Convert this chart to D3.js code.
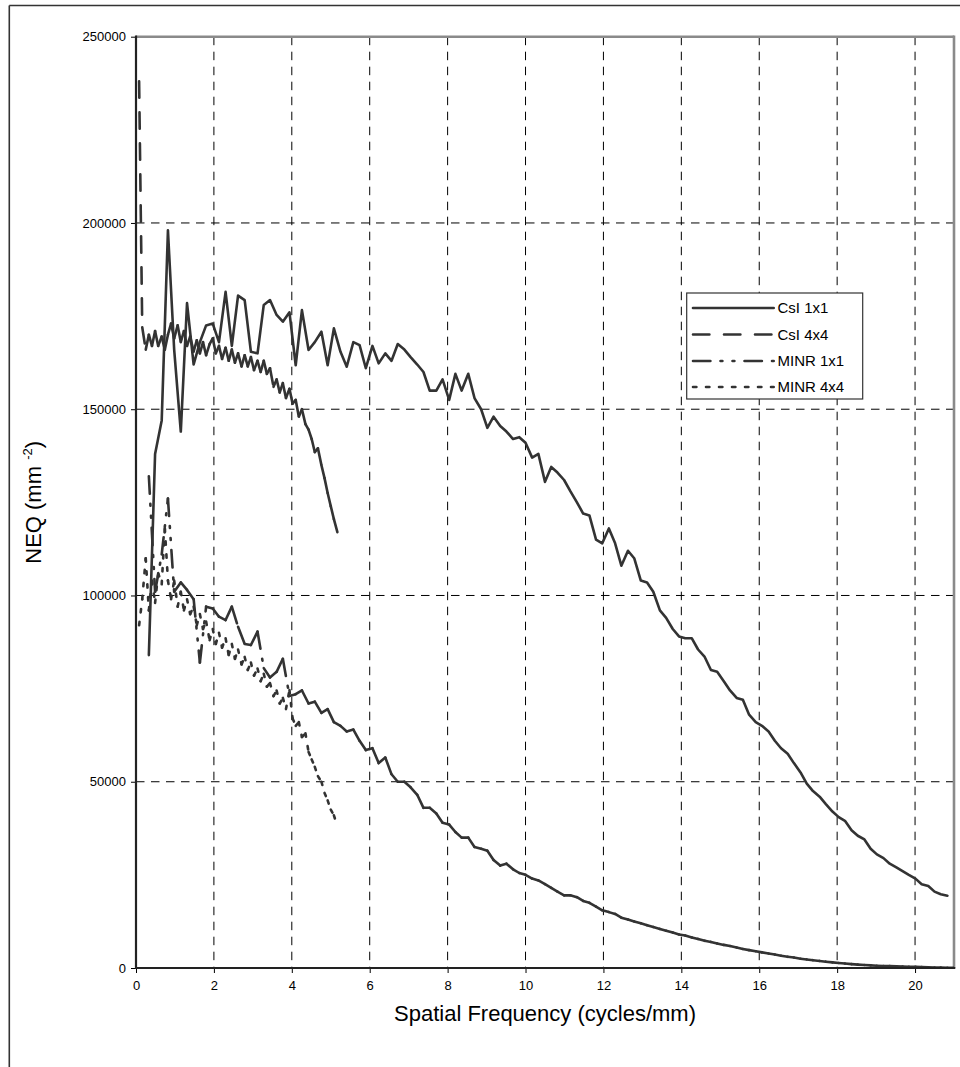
<!DOCTYPE html>
<html>
<head>
<meta charset="utf-8">
<script src="https://cdn.jsdelivr.net/npm/d3@7/dist/d3.min.js"></script>
<style>
  html, body { margin: 0; padding: 0; background: #fff; }
  text { font-family: "Liberation Sans", Arial, sans-serif; }
</style>
</head>
<body>
<script>
// ---------------- DATA ----------------
const xTickValues = [0, 2, 4, 6, 8, 10, 12, 14, 16, 18, 20];
const yTickValues = [0, 50000, 100000, 150000, 200000, 250000];
const seriesNames = ["CsI 1x1", "CsI 4x4", "MINR 1x1", "MINR 4x4"];

// sampling frequencies (cycles/mm) of the 1x1 data
const freq1x1 = [0.33, 0.49, 0.66, 0.82, 0.98, 1.15, 1.31, 1.48, 1.64, 1.80, 1.97, 2.13, 2.30, 2.46, 2.62, 2.79, 2.95, 3.12, 3.28, 3.44,
  3.61, 3.77, 3.94, 4.10, 4.26, 4.43, 4.59, 4.76, 4.92, 5.08, 5.25, 5.41, 5.58, 5.74, 5.90, 6.07, 6.23, 6.40, 6.56, 6.72,
  6.89, 7.05, 7.22, 7.38, 7.54, 7.71, 7.87, 8.04, 8.20, 8.36, 8.53, 8.69, 8.86, 9.02, 9.18, 9.35, 9.51, 9.68, 9.84, 10.00,
  10.17, 10.33, 10.50, 10.66, 10.82, 10.99, 11.15, 11.32, 11.48, 11.64, 11.81, 11.97, 12.14, 12.30, 12.46, 12.63, 12.79, 12.96, 13.12, 13.28,
  13.45, 13.61, 13.78, 13.94, 14.10, 14.27, 14.43, 14.60, 14.76, 14.92, 15.09, 15.25, 15.42, 15.58, 15.74, 15.91, 16.07, 16.24, 16.40, 16.56,
  16.73, 16.89, 17.06, 17.22, 17.38, 17.55, 17.71, 17.88, 18.04, 18.20, 18.37, 18.53, 18.70, 18.86, 19.02, 19.19, 19.35, 19.52, 19.68, 19.84,
  20.01, 20.17, 20.34, 20.50, 20.66, 20.83, 20.99];

// sampling frequencies (cycles/mm) of the 4x4 data
const freq4x4 = [0.08, 0.16, 0.25, 0.33, 0.41, 0.49, 0.57, 0.66, 0.74, 0.82, 0.90, 0.98, 1.07, 1.15, 1.23, 1.31, 1.39, 1.48, 1.56, 1.64,
  1.72, 1.80, 1.89, 1.97, 2.05, 2.13, 2.21, 2.30, 2.38, 2.46, 2.54, 2.62, 2.71, 2.79, 2.87, 2.95, 3.03, 3.12, 3.20, 3.28,
  3.36, 3.44, 3.53, 3.61, 3.69, 3.77, 3.85, 3.94, 4.02, 4.10, 4.18, 4.26, 4.35, 4.43, 4.51, 4.59, 4.67, 4.76, 4.84, 4.92,
  5.00, 5.08, 5.17];

// NEQ (mm^-2)
const csi1x1 = [84000, 138000, 147000, 198000, 166000, 144000, 178500, 162000, 168000, 172500, 173000, 168000, 181500, 167000, 180500, 179300, 165400, 165000, 178000, 179300,
  175300, 173500, 176000, 161800, 176600, 165900, 168000, 170800, 161800, 171700, 165400, 161400, 168000, 167200, 161000, 167000, 162300, 165000, 163000, 167500,
  166000, 164000, 162000, 160000, 155000, 155000, 158000, 152500, 159500, 155000, 159500, 153000, 150000, 145000, 148000, 145500, 144000, 142000, 142500, 141000,
  137000, 138000, 130500, 134500, 133000, 131000, 128000, 125000, 122000, 121500, 115000, 114000, 118000, 114000, 108000, 112000, 110000, 104000, 103500, 101000,
  96000, 94000, 91000, 89000, 88500, 88500, 85500, 83500, 80000, 79500, 77000, 74500, 72500, 72000, 68000, 66000, 65000, 63500, 61000, 59000,
  57500, 55000, 52500, 49500, 47500, 46000, 44000, 42000, 40500, 39500, 37000, 35500, 34500, 32000, 30500, 29500, 28000, 27000, 26000, 25000,
  24000, 22500, 22000, 20500, 19800, 19400];

const minr1x1 = [132000, 101000, 111000, 126000, 101000, 103500, 101500, 99000, 82000, 97000, 96500, 94300, 93400, 97000, 91600, 87000, 86700, 90300, 80500, 78000,
  79500, 83000, 73000, 73500, 74500, 71000, 71500, 68500, 69500, 66000, 65000, 63500, 64000, 61000, 58500, 59000, 55000, 56500, 52000, 50000,
  50000, 48500, 46500, 43000, 43000, 41500, 39000, 38500, 36500, 35000, 35000, 32500, 32000, 31500, 29000, 27500, 28000, 26500, 25500, 25000,
  24000, 23500, 22500, 21500, 20500, 19500, 19500, 19000, 18000, 17500, 16500, 15500, 15000, 14500, 13500, 13000, 12500, 12000, 11500, 11000,
  10500, 10000, 9500, 9000, 8700, 8200, 7800, 7300, 7000, 6600, 6200, 5900, 5500, 5100, 4800, 4500, 4200, 3900, 3600, 3300,
  3000, 2800, 2500, 2300, 2100, 1900, 1700, 1500, 1350, 1200, 1050, 900, 800, 700, 600, 550, 500, 450, 400, 350,
  300, 250, 200, 150, 100, 80, 50];

const csi4x4 = [238000, 172000, 166000, 170000, 167000, 171000, 167000, 169500, 166000, 170000, 173000, 169000, 172500, 168000, 171000, 167000, 169500, 165500, 168500, 165000,
  168000, 164500, 167500, 169000, 165000, 167000, 163500, 166500, 163000, 166000, 162500, 165000, 161500, 164500, 161500, 164000, 160500, 163000, 160000, 163000,
  159500, 161000, 156000, 158000, 154500, 157000, 153000, 155500, 151500, 152500, 148000, 150000, 146000, 144500, 142000, 138500, 139500, 135000, 131500, 127500,
  124000, 120500, 117000];

const minr4x4 = [92000, 99000, 110000, 96000, 104000, 98000, 106000, 103000, 118000, 104000, 99000, 104000, 97000, 101000, 96000, 99000, 95000, 97000, 92000, 95000,
  91000, 93000, 88000, 91000, 87000, 90000, 86000, 88500, 84000, 87000, 83000, 85500, 81500, 83500, 80000, 82000, 78500, 80400, 77000, 79000,
  75500, 76500, 73000, 74500, 71000, 72500, 69500, 74600, 67000, 65000, 66000, 62000, 63000, 58000, 56000, 54000, 51500, 50000, 47000, 45000,
  42500, 41000, 38000];

// ---------------- CHART ----------------
const W = 960, H = 1067;
const LINE = "#333333";
const SW = 2.6;

const svg = d3.select("body").append("svg")
  .attr("width", W).attr("height", H)
  .attr("viewBox", `0 0 ${W} ${H}`);

svg.append("rect").attr("width", W).attr("height", H).attr("fill", "#fff");

// outer chart frame (only top and left edges are inside the picture)
svg.append("line").attr("x1", 9.3).attr("x2", W + 5).attr("y1", 5.5).attr("y2", 5.5)
  .attr("stroke", "#333").attr("stroke-width", 1.6);
svg.append("line").attr("x1", 9.3).attr("x2", 9.3).attr("y1", 5.5).attr("y2", H + 5)
  .attr("stroke", "#333").attr("stroke-width", 1.6);

const x = d3.scaleLinear().domain([0, 21]).range([136, 954]);
const y = d3.scaleLinear().domain([0, 250000]).range([968, 36.7]);

const [x0, x1] = x.range();
const [y0, y1] = y.range();

// grid
const grid = svg.append("g");
grid.selectAll("line.v").data(xTickValues.filter(d => d > 0)).enter().append("line")
  .attr("x1", d => x(d)).attr("x2", d => x(d)).attr("y1", y1).attr("y2", y0)
  .attr("stroke", "#000").attr("stroke-width", 1).attr("stroke-dasharray", "8.5,6.5");
grid.selectAll("line.h").data(yTickValues.filter(d => d > 0 && d < 250000)).enter().append("line")
  .attr("x1", x0).attr("x2", x1).attr("y1", d => y(d)).attr("y2", d => y(d))
  .attr("stroke", "#000").attr("stroke-width", 1).attr("stroke-dasharray", "8.5,6.5");

// plot border (grey) on top/right
svg.append("line").attr("x1", x0).attr("x2", x1).attr("y1", y1).attr("y2", y1)
  .attr("stroke", "#8a8a8a").attr("stroke-width", 2.6);
svg.append("line").attr("x1", x1).attr("x2", x1).attr("y1", y1 - 1.3).attr("y2", y0)
  .attr("stroke", "#8a8a8a").attr("stroke-width", 2.6);

// axes
const yAxis = d3.axisLeft(y).tickValues(yTickValues).tickSize(5).tickSizeOuter(0)
  .tickPadding(5).tickFormat(d3.format("d"));
const xAxis = d3.axisBottom(x).tickValues(xTickValues).tickSize(5).tickSizeOuter(0)
  .tickPadding(8).tickFormat(d3.format("d"));

const gy = svg.append("g").attr("transform", `translate(${x0},0)`).call(yAxis);
const gx = svg.append("g").attr("transform", `translate(0,${y0})`).call(xAxis);
[gy, gx].forEach(g => {
  g.select(".domain").remove();
  g.selectAll(".tick line").attr("stroke", "#000").attr("stroke-width", 1);
  g.selectAll(".tick text").attr("fill", "#000").style("font-size", "13px")
    .style("font-family", "'Liberation Sans', Arial, sans-serif");
});

// data lines, clipped to plot area
svg.append("clipPath").attr("id", "plotclip").append("rect")
  .attr("x", x0).attr("y", y1).attr("width", x1 - x0).attr("height", y0 - y1);
const plot = svg.append("g").attr("clip-path", "url(#plotclip)");

// dash patterns restart on every segment (as in the original spreadsheet rendering)
const dashes = {
  "CsI 1x1": null,
  "CsI 4x4": [19 - SW, 12 + SW],
  "MINR 1x1": [20 - SW, 7.5 + SW, Math.max(0.1, 4.5 - SW), 7.5 + SW, Math.max(0.1, 4.5 - SW), 7.5 + SW],
  "MINR 4x4": [Math.max(0.1, 6 - SW), 7 + SW]
};

function drawSeries(name, freqs, vals) {
  const pts = vals.map((v, i) => [freqs[i], v]);
  const dash = dashes[name];
  if (!dash) {
    plot.append("path").datum(pts)
      .attr("d", d3.line().x(d => x(d[0])).y(d => y(d[1])))
      .attr("fill", "none").attr("stroke", LINE).attr("stroke-width", SW)
      .attr("stroke-linejoin", "round").attr("stroke-linecap", "round");
  } else {
    const segs = d3.pairs(pts);
    plot.append("g").selectAll("line").data(segs).enter().append("line")
      .attr("x1", d => x(d[0][0])).attr("y1", d => y(d[0][1]))
      .attr("x2", d => x(d[1][0])).attr("y2", d => y(d[1][1]))
      .attr("stroke", LINE).attr("stroke-width", SW)
      .attr("stroke-linecap", "round")
      .attr("stroke-dasharray", dash.join(","));
  }
}

drawSeries("MINR 4x4", freq4x4, minr4x4);
drawSeries("MINR 1x1", freq1x1, minr1x1);
drawSeries("CsI 4x4", freq4x4, csi4x4);
drawSeries("CsI 1x1", freq1x1, csi1x1);

// axis lines (dark)
svg.append("line").attr("x1", x0).attr("x2", x0).attr("y1", y1 - 1.3).attr("y2", y0 + 1)
  .attr("stroke", "#222").attr("stroke-width", 2.2);
svg.append("line").attr("x1", x0 - 1).attr("x2", x1 + 1.3).attr("y1", y0).attr("y2", y0)
  .attr("stroke", "#222").attr("stroke-width", 2.2);

// axis titles
svg.append("text").attr("x", (x0 + x1) / 2).attr("y", 1021)
  .attr("text-anchor", "middle").style("font-size", "22px").attr("fill", "#000")
  .text("Spatial Frequency (cycles/mm)");

const yt = svg.append("text")
  .attr("transform", `translate(41,${(y0 + y1) / 2}) rotate(-90)`)
  .attr("text-anchor", "middle").style("font-size", "22px").attr("fill", "#000");
yt.append("tspan").text("NEQ (mm ");
yt.append("tspan").attr("dy", -9).style("font-size", "13px").text("-2");
yt.append("tspan").attr("dy", 9).text(")");

// legend
const lg = svg.append("g");
const lgX = 686.7, lgY = 293, lgW = 176, lgH = 106;
lg.append("rect").attr("x", lgX).attr("y", lgY).attr("width", lgW).attr("height", lgH)
  .attr("fill", "#fff").attr("stroke", "#333").attr("stroke-width", 1.2);
const rowY = [308, 334.5, 361, 387];
seriesNames.forEach((name, i) => {
  const dash = dashes[name];
  const ln = lg.append("line").attr("x1", 691.7 + SW / 2).attr("x2", 775 - SW / 2)
    .attr("y1", rowY[i]).attr("y2", rowY[i])
    .attr("stroke", LINE).attr("stroke-width", SW).attr("stroke-linecap", "round");
  if (dash) ln.attr("stroke-dasharray", dash.join(","));
  lg.append("text").attr("x", 777.5).attr("y", rowY[i]).attr("dy", "0.36em")
    .style("font-size", "15px").attr("fill", "#000").text(name);
});
</script>
</body>
</html>
